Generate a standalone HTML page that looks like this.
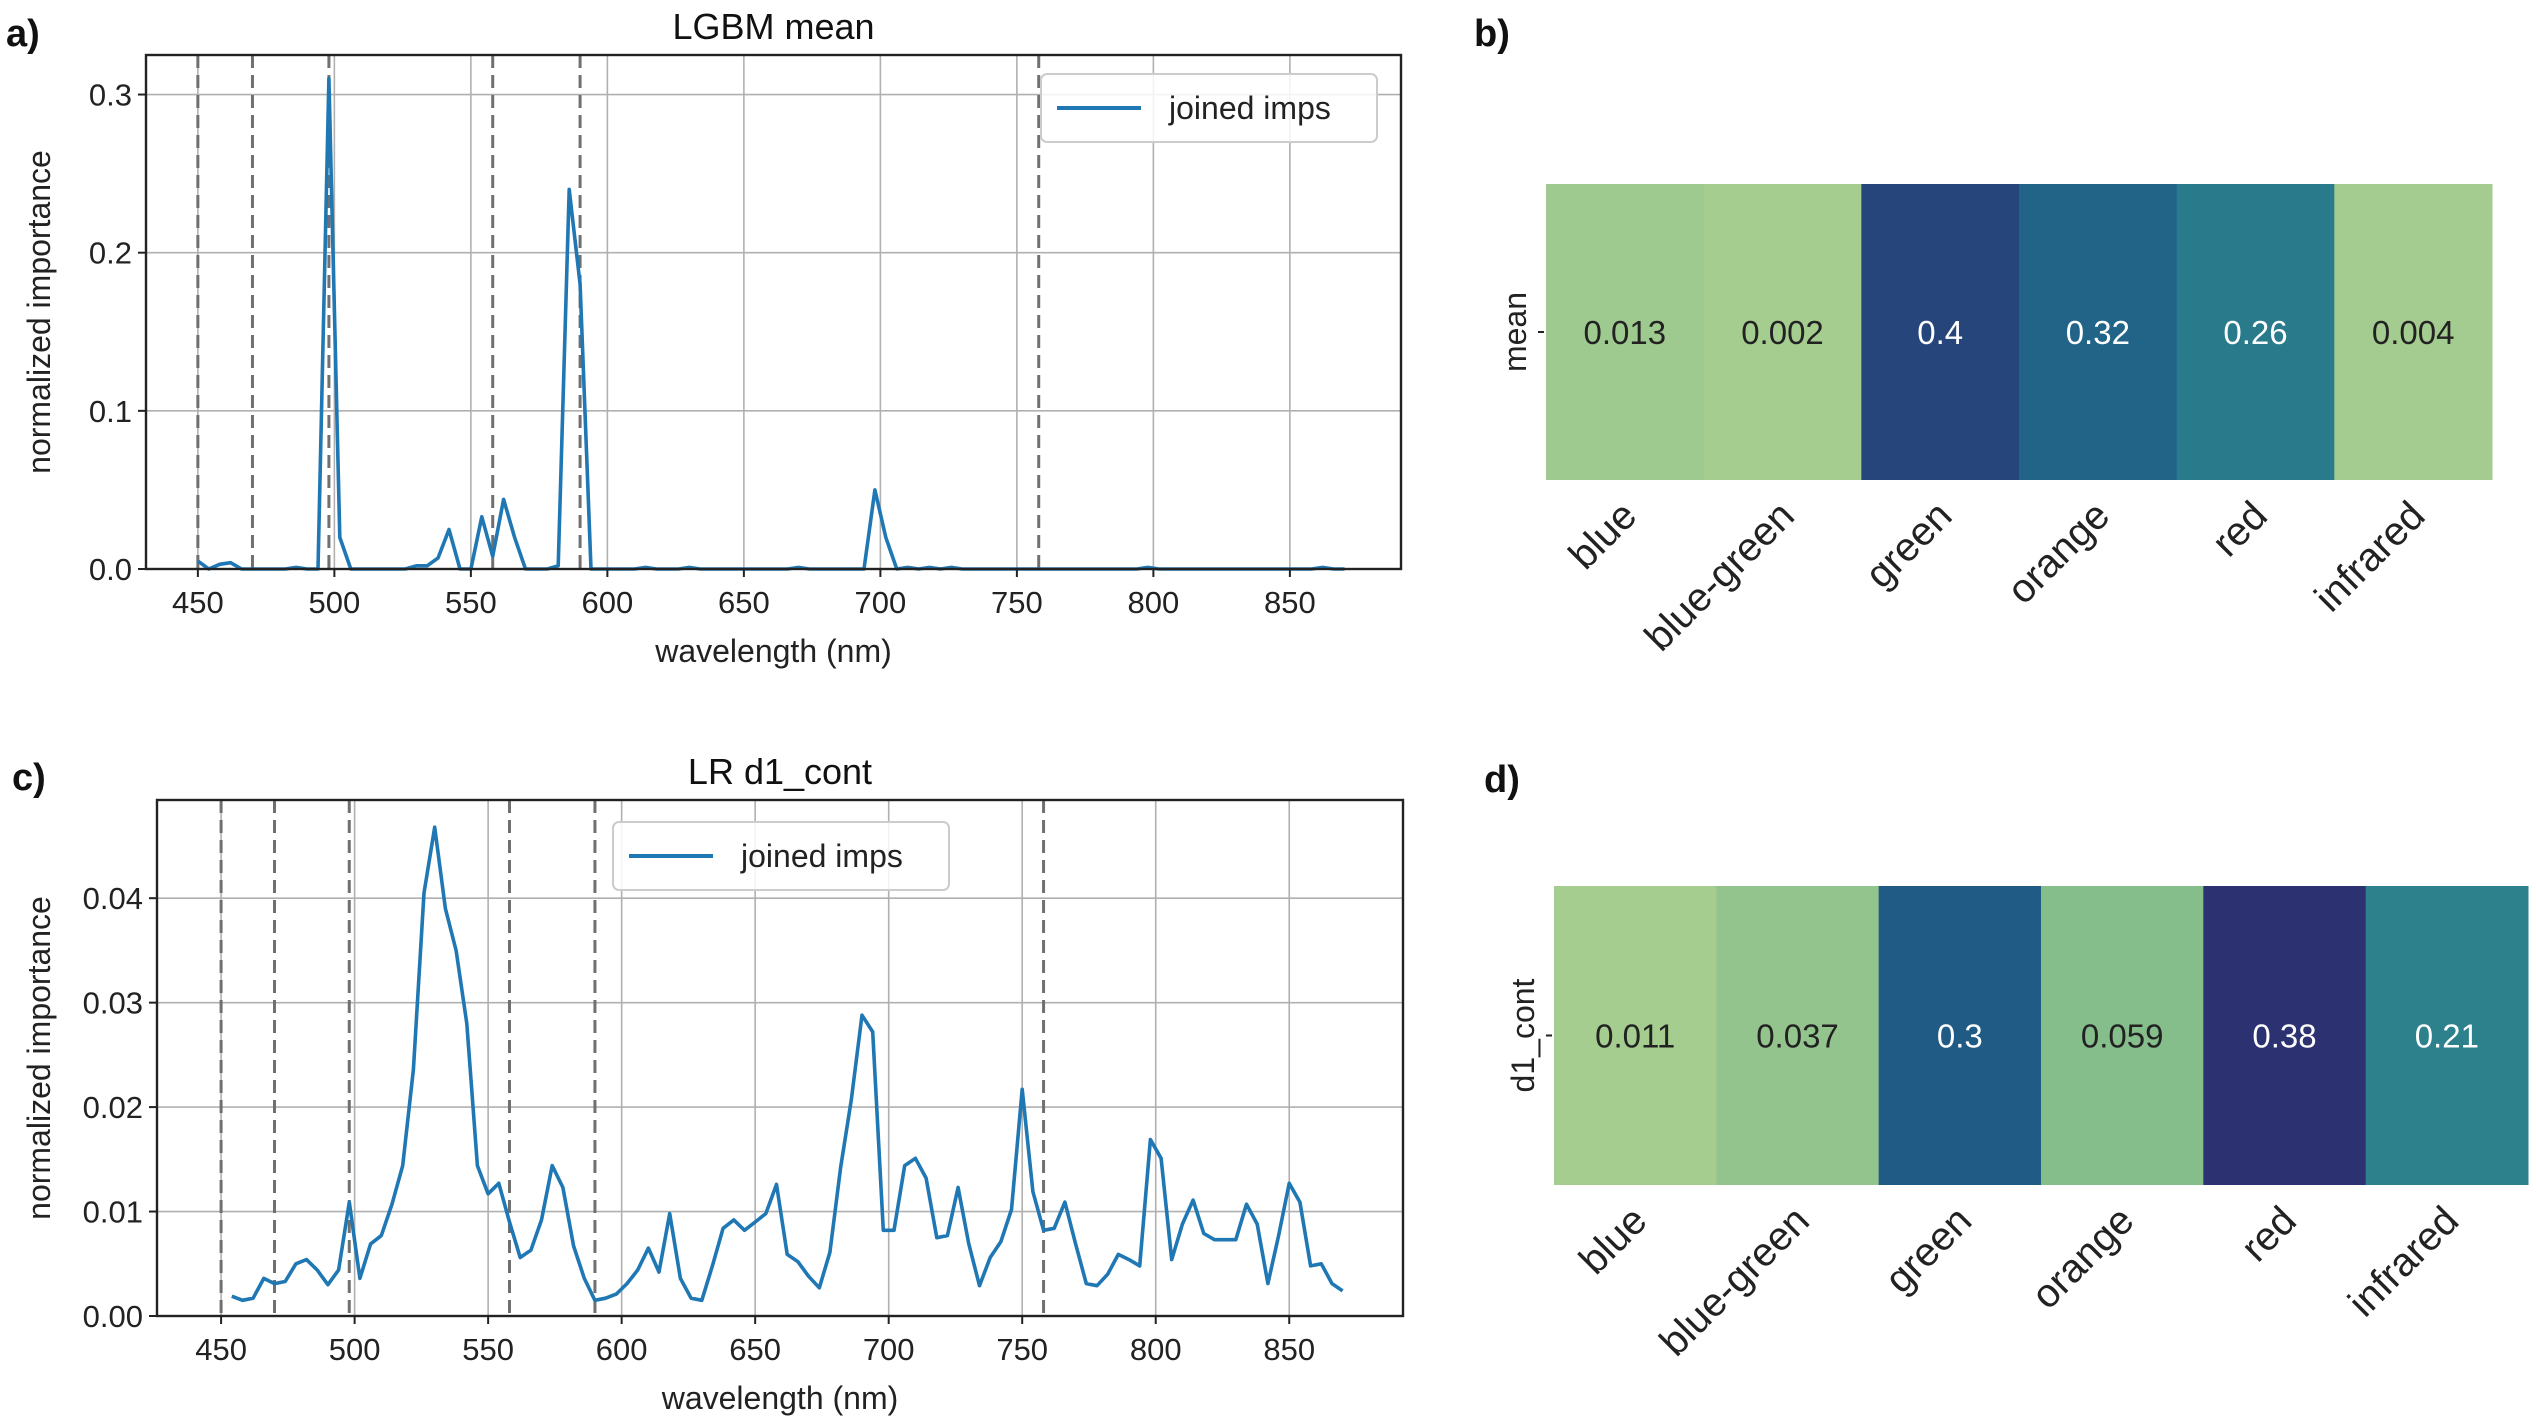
<!DOCTYPE html>
<html><head><meta charset="utf-8">
<style>
html,body{margin:0;padding:0;background:#fff;}
svg{display:block;font-family:"Liberation Sans",sans-serif;}
</style></head>
<body>
<svg id="fig" width="2536" height="1426" viewBox="0 0 2536 1426" xmlns="http://www.w3.org/2000/svg">
<g id="root"></g>
</svg>
<script>
// ---- Data ----
const lgbmWavelengths = [450,454,458,462,466,470,474,478,482,486,490,494,498,502,506,510,514,518,522,526,530,534,538,542,546,550,554,558,562,566,570,574,578,582,586,590,594,598,602,606,610,614,618,622,626,630,634,638,642,646,650,654,658,662,666,670,674,678,682,686,690,694,698,702,706,710,714,718,722,726,730,734,738,742,746,750,754,758,762,766,770,774,778,782,786,790,794,798,802,806,810,814,818,822,826,830,834,838,842,846,850,854,858,862,866,870];
const lgbmValues = [0.005,0,0.003,0.004,0,0,0,0,0,0.001,0,0,0.31,0.02,0,0,0,0,0,0,0.002,0.002,0.007,0.025,0,0,0.033,0.008,0.044,0.02,0,0,0,0.002,0.24,0.18,0,0,0,0,0,0.001,0,0,0,0.001,0,0,0,0,0,0,0,0,0,0.001,0,0,0,0,0,0,0.05,0.02,0,0.001,0,0.001,0,0.001,0,0,0,0,0,0,0,0,0,0,0,0,0,0,0,0,0,0.001,0,0,0,0,0,0,0,0,0,0,0,0,0,0,0,0.001,0,0];
const lrWavelengths = [454,458,462,466,470,474,478,482,486,490,494,498,502,506,510,514,518,522,526,530,534,538,542,546,550,554,558,562,566,570,574,578,582,586,590,594,598,602,606,610,614,618,622,626,630,634,638,642,646,650,654,658,662,666,670,674,678,682,686,690,694,698,702,706,710,714,718,722,726,730,734,738,742,746,750,754,758,762,766,770,774,778,782,786,790,794,798,802,806,810,814,818,822,826,830,834,838,842,846,850,854,858,862,866,870];
const lrValues = [0.0019,0.0015,0.0017,0.0036,0.0031,0.0033,0.005,0.0054,0.0044,0.003,0.0044,0.0109,0.0036,0.0069,0.0077,0.0107,0.0144,0.0236,0.0405,0.0468,0.039,0.035,0.028,0.0144,0.0117,0.0127,0.009,0.0056,0.0063,0.0092,0.0144,0.0123,0.0067,0.0036,0.0015,0.0017,0.0021,0.0031,0.0044,0.0065,0.0042,0.0098,0.0036,0.0017,0.0015,0.0048,0.0084,0.0092,0.0082,0.009,0.0098,0.0126,0.0059,0.0052,0.0038,0.0027,0.0061,0.0142,0.0207,0.0288,0.0272,0.0082,0.0082,0.0144,0.0151,0.0132,0.0075,0.0077,0.0123,0.0069,0.0029,0.0056,0.0071,0.0102,0.0217,0.0119,0.0082,0.0084,0.0109,0.0069,0.0031,0.0029,0.004,0.0059,0.0054,0.0048,0.0169,0.0151,0.0054,0.0088,0.0111,0.0079,0.0073,0.0073,0.0073,0.0107,0.0088,0.0031,0.0077,0.0127,0.0109,0.0048,0.005,0.0031,0.0024];
const bandBoundaries = [450,470,498,558,590,758];
const xTicks = [450,500,550,600,650,700,750,800,850];
const yTicksA = [0,0.1,0.2,0.3];
const yTickLabelsA = ["0.0","0.1","0.2","0.3"];
const yTicksC = [0,0.01,0.02,0.03,0.04];
const yTickLabelsC = ["0.00","0.01","0.02","0.03","0.04"];
const bands = ["blue","blue-green","green","orange","red","infrared"];
const meanValues = [0.013,0.002,0.4,0.32,0.26,0.004];
const meanLabels = ["0.013","0.002","0.4","0.32","0.26","0.004"];
const d1Values = [0.011,0.037,0.3,0.059,0.38,0.21];
const d1Labels = ["0.011","0.037","0.3","0.059","0.38","0.21"];

const NS = "http://www.w3.org/2000/svg";
const root = document.getElementById('root');
function mk(tag, attrs, parent, text){
  const e = document.createElementNS(NS, tag);
  for (const k in attrs) e.setAttribute(k, attrs[k]);
  if (text !== undefined) e.textContent = text;
  (parent || root).appendChild(e);
  return e;
}

function linePanel(cfg){
  const g = mk('g', {});
  
  
  const {L,R,T,B,xmin,xmax,ymin,ymax} = cfg;
  const sx = v => L + (v - xmin) / (xmax - xmin) * (R - L);
  const sy = v => B - (v - ymin) / (ymax - ymin) * (B - T);
  xTicks.forEach(t => {
    const l = mk('line', {x1:sx(t), x2:sx(t), y1:T, y2:B, stroke:'#b0b0b0', 'stroke-width':1.6}, g);
    
    
  });
  cfg.yTicks.forEach(t => {
    const l = mk('line', {x1:L, x2:R, y1:sy(t), y2:sy(t), stroke:'#b0b0b0', 'stroke-width':1.6}, g);
    
    
  });
  bandBoundaries.forEach(b => {
    const l = mk('line', {x1:sx(b), x2:sx(b), y1:T, y2:B, stroke:'#707070', 'stroke-width':3, 'stroke-dasharray':'13,7'}, g);
    
    
  });
  const pts = cfg.xs.map((x,i) => sx(x).toFixed(1) + ',' + sy(cfg.ys[i]).toFixed(1)).join(' ');
  const pl = mk('polyline', {points:pts, fill:'none', stroke:'#1f77b4', 'stroke-width':3.6, 'stroke-linejoin':'round'}, g);
  
  
  const fr = mk('rect', {x:L, y:T, width:R-L, height:B-T, fill:'none', stroke:'#222', 'stroke-width':2.4}, g);
  
  
  xTicks.forEach(t => {
    mk('line', {x1:sx(t), x2:sx(t), y1:B, y2:B+8, stroke:'#222', 'stroke-width':2}, g);
    const tx = mk('text', {x:sx(t), y:B+44, 'font-size':31, 'text-anchor':'middle', fill:'#222'}, g, String(t));
    
    
  });
  cfg.yTicks.forEach((t,i) => {
    mk('line', {x1:L-8, x2:L, y1:sy(t), y2:sy(t), stroke:'#222', 'stroke-width':2}, g);
    const tx = mk('text', {x:L-14, y:sy(t)+11, 'font-size':31, 'text-anchor':'end', fill:'#222'}, g, cfg.yLabels[i]);
    
    
  });
  const xl = mk('text', {x:(L+R)/2, y:B+93, 'font-size':32, 'text-anchor':'middle', fill:'#222'}, g, 'wavelength (nm)');
  
  
  const yl = mk('text', {x:0, y:0, 'font-size':32, 'text-anchor':'middle', fill:'#222', transform:`translate(50,${(T+B)/2}) rotate(-90)`}, g, 'normalized importance');
  
  
  const ti = mk('text', {x:(L+R)/2, y:T-16, 'font-size':36, 'text-anchor':'middle', fill:'#111'}, g, cfg.title);
  
  
  const lg = mk('g', {}, g);
  
  
  mk('rect', {x:cfg.lx, y:cfg.ly, width:336, height:68, rx:6, fill:'#fff', 'fill-opacity':0.85, stroke:'#ccc', 'stroke-width':2}, lg);
  mk('line', {x1:cfg.lx+16, x2:cfg.lx+100, y1:cfg.ly+34, y2:cfg.ly+34, stroke:'#1f77b4', 'stroke-width':4}, lg);
  const lt = mk('text', {x:cfg.lx+128, y:cfg.ly+45, 'font-size':32, fill:'#222'}, lg, 'joined imps');
  
  
  const pn = mk('text', {x:cfg.px, y:cfg.py, 'font-size':38, 'font-weight':'bold', fill:'#111'}, g, cfg.panel);
  
  
}

const crest = [[0,[165,205,144]],[0.15,[128,186,138]],[0.35,[67,152,139]],[0.55,[44,128,140]],[0.75,[31,96,136]],[0.9,[37,72,124]],[1,[44,49,113]]];
function cmap(t){
  t = Math.max(0, Math.min(1, t));
  for (let i=1;i<crest.length;i++){
    if (t <= crest[i][0]){
      const a=crest[i-1], b=crest[i], f=(t-a[0])/(b[0]-a[0]);
      const c=a[1].map((v,k)=>Math.round(v+(b[1][k]-v)*f));
      return `rgb(${c[0]},${c[1]},${c[2]})`;
    }
  }
  return 'rgb(44,49,113)';
}

function heatPanel(cfg){
  const g = mk('g', {});
  
  
  const {L,R,T,B,vals,labels} = cfg;
  const w = (R-L)/bands.length;
  const vmin = Math.min(...vals), vmax = Math.max(...vals) * cfg.vscale;
  vals.forEach((v,i) => {
    const t = (v - vmin)/(vmax - vmin);
    const r = mk('rect', {x:L+i*w, y:T, width:w+0.5, height:B-T, fill:cmap(t)}, g);
    
    
    const tx = mk('text', {x:L+(i+0.5)*w, y:(T+B)/2+12, 'font-size':33, 'text-anchor':'middle', fill: t>0.5 ? '#fff' : '#222'}, g, labels[i]);
    
    
    const cx = L+(i+0.5)*w + 14, cy = B + 38;
    const xl = mk('text', {x:0, y:0, 'font-size':40, 'text-anchor':'end', fill:'#222', transform:`translate(${cx},${cy}) rotate(-45)`}, g, bands[i]);
    
    
  });
  mk('line', {x1:L-8, x2:L-2, y1:(T+B)/2, y2:(T+B)/2, stroke:'#222', 'stroke-width':2}, g);
  const yl = mk('text', {x:0, y:0, 'font-size':32, 'text-anchor':'middle', fill:'#222', transform:`translate(${L-20},${(T+B)/2}) rotate(-90)`}, g, cfg.row);
  
  
  const pn = mk('text', {x:cfg.px, y:cfg.py, 'font-size':38, 'font-weight':'bold', fill:'#111'}, g, cfg.panel);
  
  
}

linePanel({name:'lgbm-mean-chart', title:'LGBM mean', panel:'a)', px:6, py:46,
  L:146, R:1401, T:55, B:569, xmin:431, xmax:890.7, ymin:0, ymax:0.325,
  yTicks:yTicksA, yLabels:yTickLabelsA, xs:lgbmWavelengths, ys:lgbmValues, lx:1041, ly:74});
linePanel({name:'lr-d1-cont-chart', title:'LR d1_cont', panel:'c)', px:12, py:790,
  L:157, R:1403, T:800, B:1316, xmin:426, xmax:892.6, ymin:0, ymax:0.0494,
  yTicks:yTicksC, yLabels:yTickLabelsC, xs:lrWavelengths, ys:lrValues, lx:613, ly:822});
heatPanel({name:'mean-heatmap', panel:'b)', px:1474, py:46, L:1546, R:2492, T:184, B:480, vals:meanValues, labels:meanLabels, row:'mean', vscale:1.1});
heatPanel({name:'d1-cont-heatmap', panel:'d)', px:1484, py:792, L:1554, R:2528, T:886, B:1185, vals:d1Values, labels:d1Labels, row:'d1_cont', vscale:1.0});
</script>
</body></html>
